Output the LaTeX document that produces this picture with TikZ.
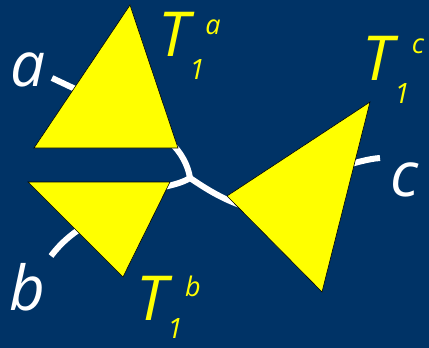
\documentclass[tikz,border=0pt]{standalone}
\usepackage{fontspec}
\setmainfont{Open Sans}
\definecolor{bg}{HTML}{003366}
\definecolor{tri}{HTML}{FFFF00}
\begin{document}
\begin{tikzpicture}[x=1pt,y=-1pt,
  edge/.style={draw=white,line width=6pt},
  subtree/.style={fill=tri,draw=black,line width=0.6pt,line join=miter},
  leaf/.style={text=white,inner sep=0pt,font=\itshape\fontsize{62}{62}\selectfont},
  tname/.style={text=tri,inner sep=0pt,font=\itshape\fontsize{62}{62}\selectfont},
  tsub/.style={text=tri,inner sep=0pt,font=\itshape\fontsize{28}{28}\selectfont},
  tsup/.style={text=tri,inner sep=0pt,font=\itshape\fontsize{27}{27}\selectfont}]
\fill[bg] (0,0) rectangle (429,348);
\useasboundingbox (0,0) rectangle (429,348);
% coordinates
\coordinate (J) at (190,178);
\coordinate (aEnd) at (52,78);
\coordinate (aIn) at (88,95);
\coordinate (bEnd) at (51,256);
\coordinate (bIn) at (88,224);
\coordinate (cEnd) at (380,158);
\coordinate (cIn) at (340,167);
\coordinate (Aup) at (170,142);
\coordinate (Bleft) at (160,188);
\coordinate (Cright) at (240,205);
% edges
\draw[edge] (aEnd) -- (aIn);
\draw[edge] (bEnd) .. controls (60,244) and (72,233) .. (bIn);
\draw[edge] (cIn) .. controls (355,163) and (367,159) .. (cEnd);
\draw[edge] (J) .. controls (188,165) and (181,152) .. (Aup);
\draw[edge] (J) .. controls (182,183) and (172,185) .. (Bleft);
\draw[edge] (J) .. controls (202,186) and (218,197) .. (Cright);
% subtrees
\draw[subtree] (130,5) -- (34,148) -- (178,148) -- cycle;
\draw[subtree] (28,182) -- (170,182) -- (123,277) -- cycle;
\draw[subtree] (227,196) -- (370,102) -- (322,292) -- cycle;
% leaf labels
\node[leaf] (la) at (28,70) {a};
\node[leaf,anchor=base] (lb) at (27,310) {b};
\node[leaf] (lc) at (405,180) {c};
% subtree labels
\node[tname] (Ta) at (174,34) {T};
\node[tsub] (Ta1) at (197,70) {1};
\node[tsup] (Tas) at (213,27) {a};
\node[tname] (Tb) at (152,298) {T};
\node[tsub] (Tb1) at (175,329) {1};
\node[tsup,anchor=base] (Tbs) at (193,296) {b};
\node[tname] (Tc) at (378,58) {T};
\node[tsub] (Tc1) at (402,94) {1};
\node[tsup] (Tcs) at (418,46) {c};
\end{tikzpicture}
\end{document}
